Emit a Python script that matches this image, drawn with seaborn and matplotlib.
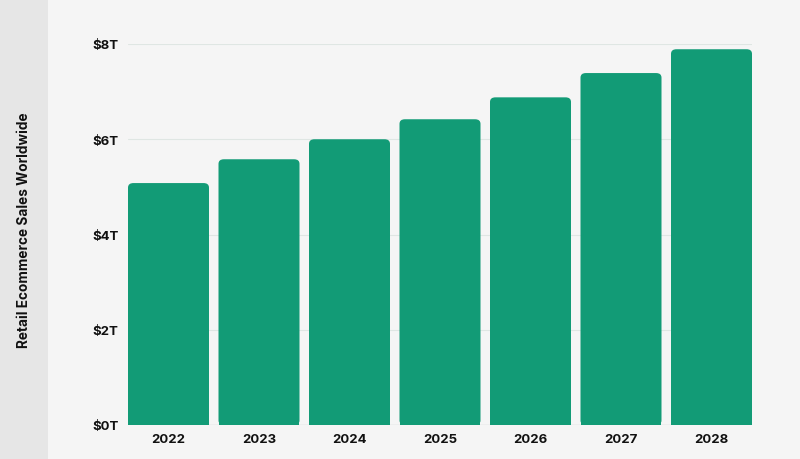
import numpy as np
import pandas as pd
import matplotlib
matplotlib.use("Agg")
import matplotlib.pyplot as plt
from matplotlib.patches import Rectangle, FancyBboxPatch
import seaborn as sns

# data (trillions USD)
years = ["2022", "2023", "2024", "2025", "2026", "2027", "2028"]
sales = [5.08, 5.58, 6.00, 6.42, 6.88, 7.39, 7.89]
y_ticks = [0, 2, 4, 6, 8]
y_tick_labels = ["$0T", "$2T", "$4T", "$6T", "$8T"]
y_title = "Retail Ecommerce Sales Worldwide"

bar_color = "#129b76"
bg_color = "#f5f5f5"
band_color = "#e6e6e6"
text_color = "#111111"

sns.set_theme(style="white")
plt.rcParams["font.family"] = ["Inter", "DejaVu Sans"]

df = pd.DataFrame({"year": years, "sales": sales})

fig = plt.figure(figsize=(8, 4.6), dpi=100, facecolor=bg_color)
fig.patches.append(Rectangle((0, 0), 48 / 800, 1, transform=fig.transFigure,
                             facecolor=band_color, edgecolor="none", zorder=0))
ax = fig.add_axes([128 / 800, 1 - 426 / 460, 624 / 800, (426 - 45) / 460])
ax.set_facecolor(bg_color)

sns.barplot(data=df, x="year", y="sales", color=bar_color, width=0.895,
            saturation=1, ax=ax, zorder=3)

# swap plain rectangles for ones with rounded top corners
for p in list(ax.patches):
    x, w, h = p.get_x(), p.get_width(), p.get_height()
    p.remove()
    rb = FancyBboxPatch((x, 0), w, h, boxstyle="round,pad=0,rounding_size=0.06",
                        mutation_aspect=1.6,
                        facecolor=bar_color, edgecolor="none", zorder=3)
    ax.add_patch(rb)
    # cover the rounded bottom so only the top is rounded
    ax.add_patch(Rectangle((x, 0), w, h * 0.5, facecolor=bar_color,
                           edgecolor="none", zorder=3))

ax.set_xlim(-0.895 / 2, 6 + 0.895 / 2)
ax.set_ylim(0, 8)
ax.set_yticks(y_ticks)
ax.set_yticklabels(y_tick_labels)
ax.yaxis.grid(True, color="#dfe6e3", linewidth=0.8, zorder=0)
ax.set_axisbelow(True)
for s in ax.spines.values():
    s.set_visible(False)
ax.axhline(0, color="#d8d8d8", linewidth=1.0, zorder=2)

ax.tick_params(axis="both", length=0, labelsize=9.5, labelcolor=text_color)
ax.tick_params(axis="y", pad=7)
ax.tick_params(axis="x", pad=6)
for lab in ax.get_xticklabels() + ax.get_yticklabels():
    lab.set_fontweight("bold")
ax.set_xlabel("")
ax.set_ylabel("")

fig.text(24 / 800, 1 - 230 / 460, y_title, rotation=90, ha="center", va="center",
         fontsize=9.8, fontweight="bold", color=text_color)

fig.savefig("out.png", dpi=100, facecolor=bg_color)
